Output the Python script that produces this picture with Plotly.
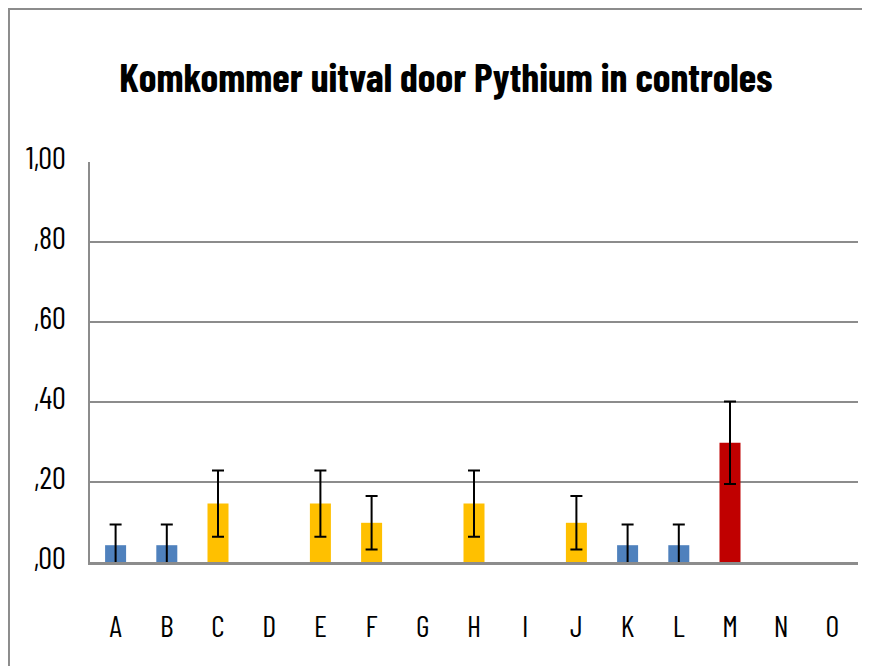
import plotly.graph_objects as go

# data
categories = ['A', 'B', 'C', 'D', 'E', 'F', 'G', 'H', 'I', 'J', 'K', 'L', 'M', 'N', 'O']
uitval = [0.042, 0.042, 0.146, None, 0.146, 0.098, None, 0.146, None, 0.098, 0.042, 0.042, 0.298, None, None]
fout = [0.052, 0.052, 0.083, None, 0.083, 0.067, None, 0.083, None, 0.067, 0.052, 0.052, 0.103, None, None]
kleur = ['#4F81BD', '#4F81BD', '#FFC000', '#FFC000', '#FFC000', '#FFC000', '#FFC000', '#FFC000',
         '#FFC000', '#FFC000', '#4F81BD', '#4F81BD', '#C00000', '#C00000', '#C00000']
y_ticks = [0, 0.2, 0.4, 0.6, 0.8, 1.0]
y_labels = [',00', ',20', ',40', ',60', ',80', '1,00']

narrow = 'Barlow Condensed, Carlito, sans-serif'

fig = go.Figure(go.Bar(
    x=categories, y=uitval, marker=dict(color=kleur, line=dict(width=0)),
    error_y=dict(type='data', array=fout, visible=True, color='black', thickness=2, width=6),
))

# the page puts the figure 8px in from the top-left corner, so the sizes are trimmed by that much
fig.update_layout(
    width=862, height=658,
    margin=dict(l=82, r=12, t=154, b=104, autoexpand=False),
    paper_bgcolor='white', plot_bgcolor='white',
    bargap=0.59, showlegend=False,
    font=dict(family=narrow, color='black'),
    title=dict(text='Komkommer uitval door Pythium in controles', x=0.508, xanchor='center',
               y=0.893, yanchor='middle', automargin=False,
               font=dict(size=40, family=narrow, color='black', weight=700)),
    shapes=[dict(type='rect', xref='paper', yref='paper', x0=-0.1055, y0=-0.5, x1=1.2, y1=1.3825,
                 line=dict(color='#8C8C8C', width=2))],
)
fig.update_xaxes(
    showgrid=False, showline=True, linecolor='#8C8C8C', linewidth=3, automargin=False,
    ticks='', tickfont=dict(size=30), ticklabelstandoff=36,
)
fig.update_yaxes(
    range=[0, 1.0], tickvals=y_ticks, ticktext=y_labels, automargin=False,
    showgrid=True, gridcolor='#8C8C8C', gridwidth=2, zeroline=False,
    showline=True, linecolor='#8C8C8C', linewidth=2,
    ticks='', tickfont=dict(size=31), ticklabelstandoff=16, ticklabelshift=-4,
)

fig.write_html('out.html')
